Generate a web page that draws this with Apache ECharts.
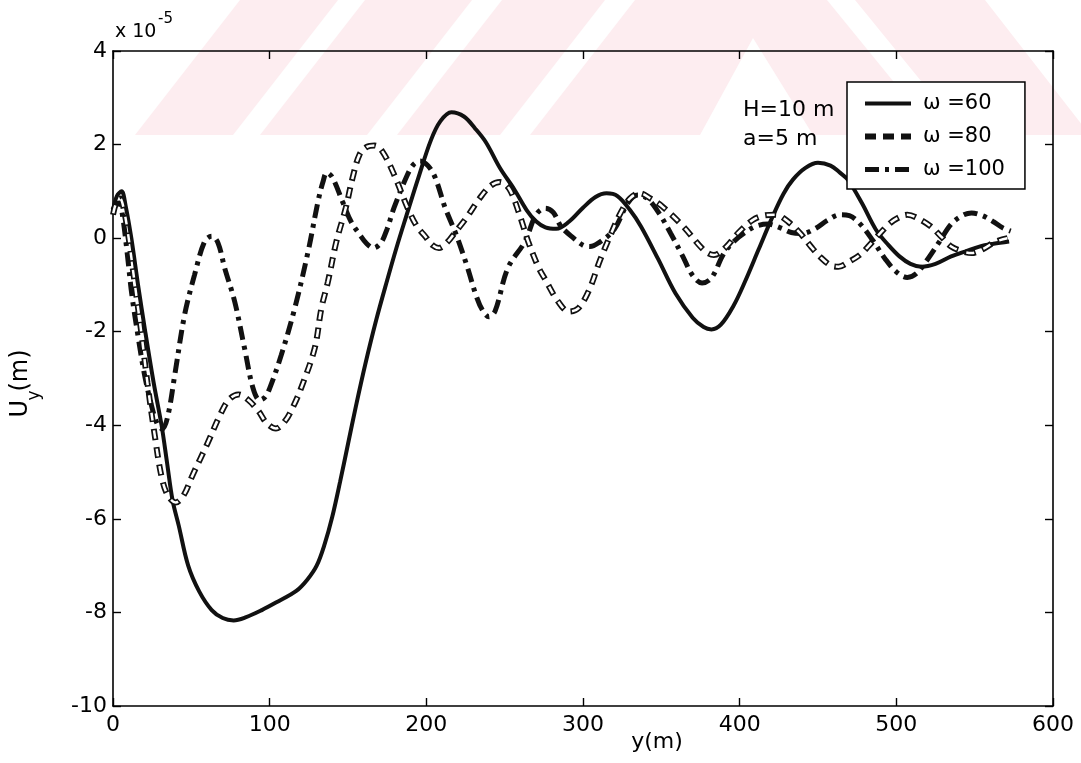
<!DOCTYPE html>
<html>
<head>
<meta charset="utf-8">
<script src="https://cdn.jsdelivr.net/npm/echarts@6/dist/echarts.min.js"></script>
<style>
  html, body { margin: 0; padding: 0; background: #fff; }
  #chart { width: 1081px; height: 763px; }
</style>
</head>
<body>
<div id="chart"></div>
<script>
// Horizontal displacement U_y (units of 1e-5 m) along y (m) for three frequencies.
const seriesNames = ['ω =60', 'ω =80', 'ω =100'];

const omega60 = [
  [0,0.6],[2.5,0.9],[5.5,1.0],[8,0.7],[11.7,0],[16,-1.0],[20.6,-2.0],[26,-3.1],[31,-4.0],
  [34.5,-4.8],[38,-5.6],[42,-6.15],[48,-7.0],[55,-7.55],[63,-7.95],[70,-8.12],[77,-8.17],
  [85,-8.1],[95,-7.95],[104,-7.79],[117,-7.54],[124,-7.3],[130,-7.0],[135,-6.55],[140,-5.95],
  [145,-5.2],[150,-4.4],[155,-3.6],[161,-2.7],[168,-1.75],[175,-0.9],[181,-0.2],[187,0.45],[195,1.3],
  [203,2.1],[209,2.5],[216,2.69],[224,2.6],[231,2.35],[238,2.05],[247,1.5],[256,1.05],
  [264,0.6],[270,0.36],[276,0.23],[283,0.2],[291,0.35],[300,0.65],[308,0.88],[315,0.96],
  [322,0.9],[330,0.6],[337,0.25],[348,-0.45],[359,-1.18],[370,-1.7],[377,-1.9],[382,-1.95],
  [388,-1.85],[396,-1.45],[403,-0.96],[412,-0.25],[421,0.46],[428,0.95],[434,1.25],[442,1.5],
  [450,1.61],[458,1.55],[464,1.4],[469,1.25],[478,0.75],[487,0.18],[495,-0.15],[502,-0.39],
  [509,-0.55],[516,-0.61],[525,-0.55],[535,-0.39],[545,-0.27],[553,-0.18],[562,-0.12],[572,-0.07]
];

const omega80 = [
  [0,0.5],[2,0.75],[4.5,0.85],[7,0.6],[10,0],[14,-1.0],[18,-2.0],[22,-3.1],[26.8,-4.25],
  [31,-5.1],[35,-5.5],[40,-5.65],[45,-5.5],[51,-5.05],[60,-4.41],[68.6,-3.76],[74,-3.45],
  [80,-3.34],[86,-3.45],[92.7,-3.69],[98,-3.95],[104,-4.07],[110,-3.9],[115,-3.6],[120,-3.21],
  [128.7,-2.36],[133,-1.5],[137.2,-0.93],[142.6,-0.07],[148.6,0.65],[153,1.3],[157.4,1.79],
  [162,1.95],[167,1.98],[172,1.85],[179.4,1.36],[188,0.65],[194,0.25],[199,0.05],[204,-0.15],
  [208,-0.21],[213,-0.1],[219,0.15],[225.5,0.43],[234,0.85],[241,1.12],[247,1.2],[253,1.05],
  [259,0.55],[265,-0.07],[271.4,-0.61],[276,-0.89],[284,-1.35],[291,-1.57],[297,-1.5],
  [304,-1.1],[311,-0.46],[318,0.1],[324,0.54],[330,0.85],[336,0.96],[343,0.85],[350.5,0.68],
  [364,0.25],[377,-0.25],[383.5,-0.36],[391,-0.2],[399,0.11],[408,0.38],[415,0.48],[423,0.5],
  [431,0.35],[438.5,0.11],[446,-0.2],[452,-0.42],[458,-0.58],[463,-0.61],[470,-0.5],[477,-0.35],
  [482,-0.18],[489,0.08],[496,0.32],[502,0.45],[507,0.5],[514,0.42],[522,0.25],[529,0.02],
  [535,-0.18],[542,-0.28],[548,-0.32],[556,-0.22],[563,-0.08],[571,0.0]
];

const omega100 = [
  [0,0.6],[2,0.72],[4,0.75],[6,0.5],[9,-0.3],[12,-1.2],[16,-2.1],[20,-2.9],[24,-3.5],
  [28,-3.95],[31.5,-4.08],[35,-3.8],[39.4,-2.93],[45.7,-1.64],[52,-0.79],[58.5,-0.07],
  [63,0.04],[67,-0.1],[71.3,-0.64],[77.7,-1.36],[84,-2.36],[89.4,-3.21],[93.6,-3.46],
  [97,-3.4],[100,-3.21],[107.4,-2.5],[116,-1.5],[124.5,-0.29],[130.9,0.79],[134,1.2],
  [136.5,1.4],[140,1.3],[146.4,0.79],[152,0.35],[157.4,0.08],[162,-0.12],[166.2,-0.21],
  [171,-0.1],[175,0.2],[179.4,0.65],[188,1.36],[192,1.58],[196,1.65],[201,1.55],[205.7,1.29],
  [212,0.65],[219,0.08],[226,-0.6],[232,-1.25],[236,-1.55],[240,-1.68],[244,-1.55],
  [252,-0.64],[263,-0.07],[270,0.5],[276,0.64],[281,0.55],[286,0.25],[294,0.0],[300,-0.15],
  [304.4,-0.18],[310,-0.1],[319.8,0.18],[328.6,0.75],[335,0.92],[341,0.85],[348.4,0.54],
  [356,0.1],[363.7,-0.39],[370,-0.8],[376,-0.96],[382,-0.85],[390,-0.32],[397,-0.05],
  [403,0.11],[410,0.25],[418,0.3],[426,0.22],[433,0.12],[440,0.1],[448,0.2],[456,0.38],
  [464,0.5],[470,0.48],[477,0.3],[485,-0.05],[493,-0.45],[500,-0.72],[507,-0.84],[513,-0.75],
  [520,-0.45],[528,-0.05],[535,0.3],[542,0.48],[548,0.54],[555,0.48],[562,0.35],[568,0.22],[573,0.15]
];

// Axis ranges: [min, max, interval]
const xRange = [0, 600, 100];
const yRange = [-10, 4, 2];

const FONT = 'DejaVu Sans';
const INK = '#111';
const chart = echarts.init(document.getElementById('chart'), null, { renderer: 'canvas' });

const boxAxis = {
  axisLine: { show: true, onZero: false, lineStyle: { color: '#000', width: 1.6 } },
  axisTick: { show: true, inside: true, length: 8, lineStyle: { color: '#000', width: 1.4 } },
  splitLine: { show: false }
};

// Faint diagonal-stripe emblem in the upper band of the page
const pink = '#fdedf0';
const emblem = [
  [[135,135],[240,0],[338,0],[233,135]],
  [[260,135],[365,0],[472,0],[367,135]],
  [[397,135],[502,0],[605,0],[500,135]],
  [[530,135],[635,0],[827,0],[937,135],[813,135],[753,38],[700,135]],
  [[855,0],[985,0],[1090,135],[965,135]]
].map(pts => ({ type: 'polygon', z: -1, silent: true, shape: { points: pts }, style: { fill: pink } }));

const txt = (text, x, y, size, extra) => ({
  type: 'text', z: 5,
  style: Object.assign({ text, x, y, fill: '#000', fontSize: size, fontFamily: FONT,
    align: 'left', verticalAlign: 'middle' }, extra || {})
});

const lineSeries = (name, data, lineStyle, z) => ({
  name, type: 'line', data, symbol: 'none', showSymbol: false, smooth: 0.35,
  itemStyle: { color: INK }, lineStyle, z
});

const option = {
  backgroundColor: '#fff',
  animation: false,
  grid: { left: 113, right: 28, top: 51, bottom: 57, containLabel: false },
  xAxis: [
    Object.assign({ type: 'value', min: xRange[0], max: xRange[1], interval: xRange[2], position: 'bottom',
      axisLabel: { color: '#000', fontFamily: FONT, fontSize: 22, margin: 8 } }, boxAxis),
    Object.assign({ type: 'value', min: xRange[0], max: xRange[1], interval: xRange[2], position: 'top',
      axisLabel: { show: false } }, boxAxis)
  ],
  yAxis: [
    Object.assign({ type: 'value', min: yRange[0], max: yRange[1], interval: yRange[2], position: 'left',
      axisLabel: { color: '#000', fontFamily: FONT, fontSize: 22, margin: 6 } }, boxAxis),
    Object.assign({ type: 'value', min: yRange[0], max: yRange[1], interval: yRange[2], position: 'right',
      axisLabel: { show: false } }, boxAxis)
  ],
  legend: {
    data: seriesNames,
    orient: 'vertical',
    left: 847, top: 82,
    padding: [11, 20, 9, 15],
    itemGap: 12,
    itemWidth: 46, itemHeight: 14,
    backgroundColor: '#fff',
    borderColor: '#000', borderWidth: 1.5, borderRadius: 0,
    itemStyle: { opacity: 0 },
    lineStyle: { width: 'inherit', color: 'inherit' },
    textStyle: { color: '#000', fontFamily: FONT, fontSize: 21, padding: [0, 0, 0, 7] },
    z: 10
  },
  series: [
    lineSeries(seriesNames[0], omega60, { color: INK, width: 4 }, 3),
    lineSeries(seriesNames[2], omega100, { color: INK, width: 5, type: [14, 6, 4, 6], cap: 'butt' }, 4),
    lineSeries(seriesNames[1], omega80, { color: INK, width: 6, type: [11, 7], cap: 'butt' }, 5),
    // white core that turns the ω=80 dashes into outlined boxes
    Object.assign(lineSeries('omega80-core', omega80,
      { color: '#fff', width: 2.5, type: [8, 10], dashOffset: 16.5, cap: 'butt' }, 6), { silent: true })
  ],
  graphic: emblem.concat([
    txt('x 10', 115, 32, 19),
    txt('-5', 158, 19, 15),
    txt('H=10 m', 743, 110, 22),
    txt('a=5 m', 743, 139, 22),
    txt('y(m)', 657, 742, 22, { align: 'center' }),
    {
      type: 'group', x: 21, y: 382.5, rotation: Math.PI / 2, z: 5,
      children: [
        { type: 'text', style: { text: 'U', x: -35, y: 0, fill: '#000', fontSize: 24, fontFamily: FONT, align: 'left', verticalAlign: 'middle' } },
        { type: 'text', style: { text: 'y', x: -18, y: 14, fill: '#000', fontSize: 17, fontFamily: FONT, align: 'left', verticalAlign: 'middle' } },
        { type: 'text', style: { text: '(m)', x: -9, y: 0, fill: '#000', fontSize: 24, fontFamily: FONT, align: 'left', verticalAlign: 'middle' } }
      ]
    }
  ])
};

chart.setOption(option);
</script>
</body>
</html>
